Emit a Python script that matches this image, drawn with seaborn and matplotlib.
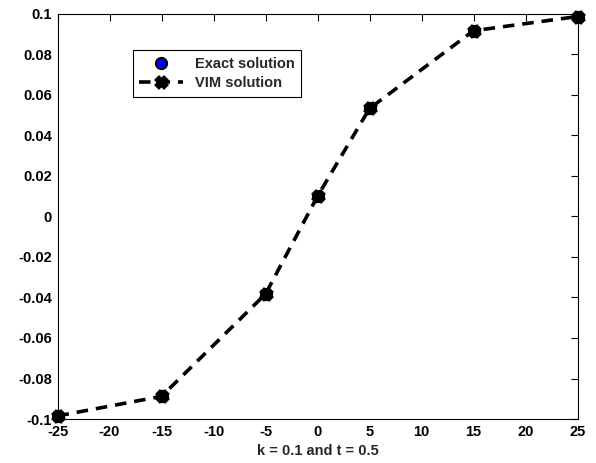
import matplotlib
matplotlib.use("Agg")
import matplotlib.pyplot as plt
import seaborn as sns
import numpy as np

# Solution values sampled along x
x_vals = [-25, -15, -5, 0, 5, 15, 25]
exact_vals = [-0.0985, -0.0888, -0.0383, 0.0100, 0.0533, 0.0917, 0.0987]
vim_vals = [-0.0985, -0.0888, -0.0383, 0.0100, 0.0533, 0.0917, 0.0987]

x_ticks = [-25, -20, -15, -10, -5, 0, 5, 10, 15, 20, 25]
y_ticks = [-0.1, -0.08, -0.06, -0.04, -0.02, 0, 0.02, 0.04, 0.06, 0.08, 0.1]
y_labels = ["-0.1", "-0.08", "-0.06", "-0.04", "-0.02", "0", "0.02", "0.04", "0.06", "0.08", "0.1"]
x_labels = ["-25", "-20", "-15", "-10", "-5", "0", "5", "10", "15", "20", "25"]

sns.set_style("white")
plt.rcParams["font.family"] = ["Liberation Sans", "DejaVu Sans"]
plt.rcParams["font.weight"] = "bold"

fig = plt.figure(figsize=(5.96, 4.63), dpi=100)
ax = fig.add_axes([0.0965, 0.095, 0.8725, 0.875])

sns.lineplot(x=x_vals, y=exact_vals, ax=ax, linestyle="none", marker="o",
             markersize=8, markerfacecolor="#0000ff", markeredgecolor="black",
             markeredgewidth=1.5, label="Exact solution", estimator=None,
             sort=False, clip_on=False)
sns.lineplot(x=x_vals, y=vim_vals, ax=ax, color="black", linewidth=2.6,
             linestyle=(0, (3.2, 2.2)), marker="x", markersize=7,
             markeredgewidth=5, markeredgecolor="black",
             label="VIM solution", estimator=None, sort=False, clip_on=False)

ax.set_xlim(-25, 25)
ax.set_ylim(-0.1, 0.1)
ax.set_xticks(x_ticks)
ax.set_xticklabels(x_labels)
ax.set_yticks(y_ticks)
ax.set_yticklabels(y_labels)
ax.set_xlabel("k = 0.1 and t = 0.5", fontsize=10.5, fontweight="bold", labelpad=4)
ax.tick_params(direction="in", length=5, width=0.8, top=True, right=True,
               labelsize=10.5, colors="black", pad=4)
for spine in ax.spines.values():
    spine.set_visible(True)
    spine.set_color("black")
    spine.set_linewidth(0.8)

leg = ax.legend(loc="upper left", bbox_to_anchor=(0.145, 0.91), fontsize=10.5,
                frameon=True, fancybox=False, shadow=False, borderpad=0.45,
                handlelength=3.0, handletextpad=0.8, labelspacing=0.35,
                borderaxespad=0, framealpha=1)
leg.get_frame().set_edgecolor("black")
leg.get_frame().set_linewidth(0.8)

fig.savefig("out.png", dpi=100)
